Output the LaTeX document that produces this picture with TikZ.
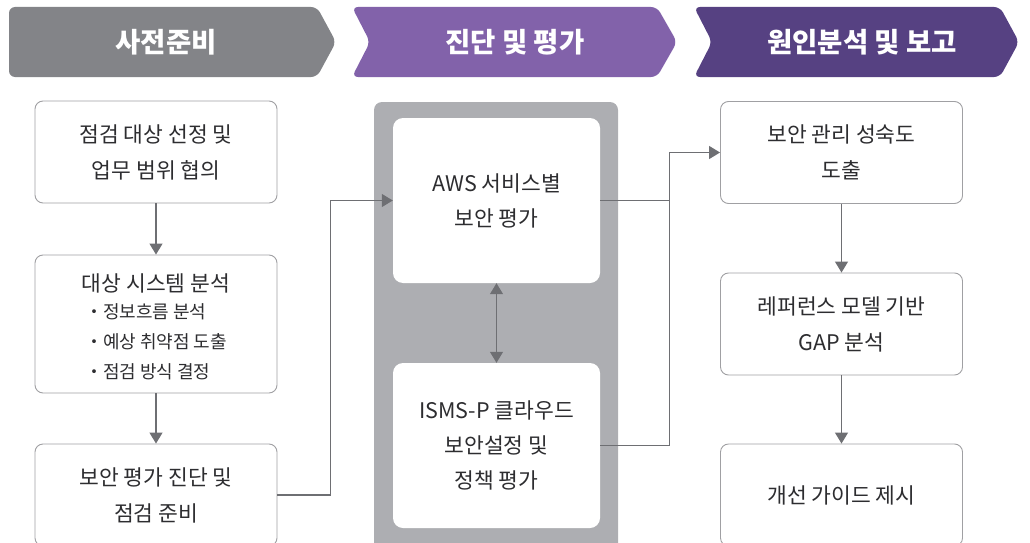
\documentclass[tikz,border=0pt]{standalone}
\usepackage{fontspec}
\usepackage{tikz}
\usetikzlibrary{arrows.meta,positioning,calc}
\newfontfamily\kr{Noto Sans CJK KR}
\definecolor{hdgray}{RGB}{131,132,136}
\definecolor{hdpurple}{RGB}{130,98,170}
\definecolor{hddark}{RGB}{86,65,130}
\definecolor{panelgray}{RGB}{173,174,178}
\definecolor{linegray}{RGB}{110,111,115}
\definecolor{boxline}{RGB}{160,160,163}
\definecolor{txt}{RGB}{45,45,48}
\tikzset{
  stagetext/.style = {text=white, font=\kr\bfseries\fontsize{27.5}{32}\selectfont},
  box/.style = {rectangle, rounded corners=8pt, draw=boxline, line width=0.9pt, fill=white,
    minimum width=242, minimum height=102, align=center, text=txt,
    font=\kr\fontsize{21.5}{36}\selectfont},
  inbox/.style = {rectangle, rounded corners=10pt, fill=white, minimum width=207,
    minimum height=165, align=center, text=txt, font=\kr\fontsize{21.5}{35}\selectfont},
  conn/.style = {draw=linegray, line width=1.2pt},
  tip/.style = {-{Triangle[length=11pt,width=13pt]}}
}
\begin{document}
\begin{tikzpicture}[x=1pt, y=-1pt]
  \clip (0,0) rectangle (1030,543);
  % stage headers
  \fill [hdgray, rounded corners=6pt] (9,7) -- (317,7) -- (336,42) -- (317,77) -- (9,77) -- cycle;
  \fill [hdpurple, rounded corners=6pt] (352,7) -- (657,7) -- (677,42) -- (657,77) -- (352,77) -- (370,42) -- cycle;
  \fill [hddark, rounded corners=6pt] (694,7) -- (1000,7) -- (1019,42) -- (1000,77) -- (694,77) -- (712,42) -- cycle;
  \node (prep) [stagetext] at (166,42) {사전준비};
  \node (diag) [stagetext] at (515,42) {진단 및 평가};
  \node (report) [stagetext] at (862,42) {원인분석 및 보고};

  % left column
  \node (scope) [box] at (156,152) {점검 대상 선정 및\\업무 범위 협의};
  \node (sys) [box, minimum height=138] at (156,324) {\rule{0pt}{27pt}\raisebox{-4pt}{대상 시스템 분석}\\[3pt]
    {\fontsize{18}{30}\selectfont\begin{tabular}{@{}l@{}}・정보흐름 분석\\・예상 취약점 도출\\・점검 방식 결정\end{tabular}}};
  \node (ready) [box] at (156,495) {보안 평가 진단 및\\점검 준비};

  % middle panel
  \fill [panelgray, rounded corners=8pt] (374,102) rectangle (618,560);
  \node (aws) [inbox] at (496.5,200.5) {AWS 서비스별\\보안 평가};
  \node (isms) [inbox] at (496.5,445.5) {ISMS-P 클라우드\\보안설정 및\\정책 평가};

  % right column
  \node (level) [box] at (841.5,152.5) {보안 관리 성숙도\\도출};
  \node (gap) [box] at (841.5,324) {레퍼런스 모델 기반\\GAP 분석};
  \node (guide) [box] at (841.5,495) {개선 가이드 제시};

  \path [conn, tip] (scope) -- (sys);
  \path [conn, tip] (sys) -- (ready);
  \path [conn, tip] (ready.east) -- ++(53,0) |- (aws.west);
  \path [conn, {Triangle[length=11pt,width=13pt]}-{Triangle[length=11pt,width=13pt]}] (aws) -- (isms);
  \path [conn, tip] (aws.east) -- ++(69,0) |- (level.west);
  \path [conn] (isms.east) -| ($(aws.east)+(69,0)$);
  \path [conn, tip] (level) -- (gap);
  \path [conn, tip] (gap) -- (guide);
\end{tikzpicture}
\end{document}
